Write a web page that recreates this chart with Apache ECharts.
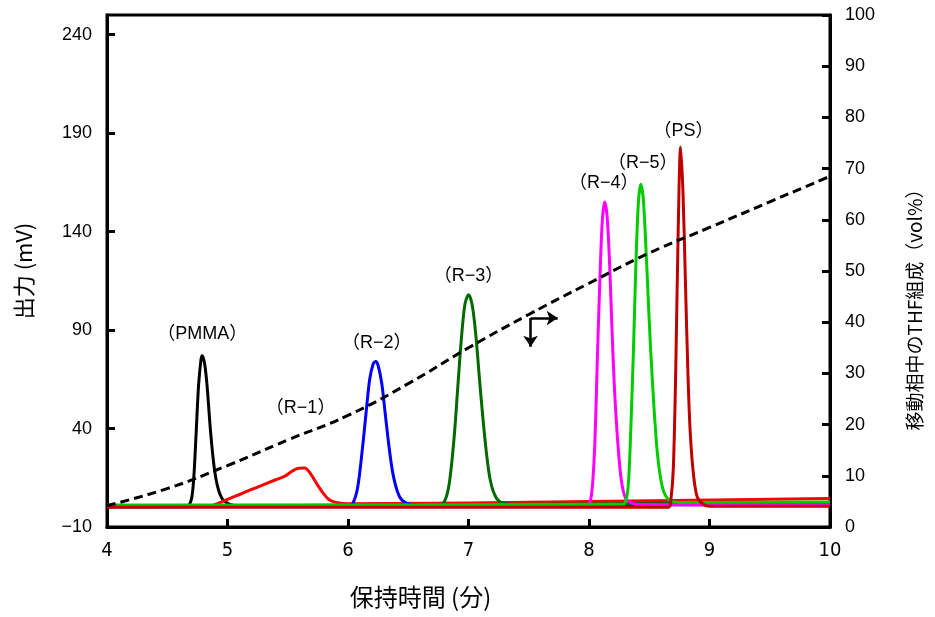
<!DOCTYPE html>
<html>
<head>
<meta charset="utf-8">
<script src="https://cdn.jsdelivr.net/npm/echarts@6/dist/echarts.min.js"></script>
<style>
  html, body { margin: 0; padding: 0; background: #fff; }
  #container { width: 935px; height: 617px; }
</style>
</head>
<body>
<div id="container"></div>
<script>
// retention time (min) vs detector output (mV); each trace as [time, mV]
var pmma = [[4,0.3],[4.66,0.3],[4.70,4],[4.72,15],[4.74,38],[4.76,62],[4.78,75],[4.79,77],[4.81,73],[4.83,62],[4.86,38],[4.89,20],[4.92,10],[4.96,4],[5.02,1.5],[5.1,0.8],[7,1.5],[10,2]];
var r1 = [[4,0.3],[4.85,0.5],[4.92,2],[5.0,4],[5.1,6.5],[5.19,8.8],[5.3,11.5],[5.4,14],[5.48,16],[5.54,18.5],[5.59,19.8],[5.64,20],[5.69,17],[5.74,12],[5.79,7.5],[5.84,4],[5.9,2.5],[6.0,1.8],[8,3],[10,4.5]];
var r2 = [[4,0.5],[6.00,0.5],[6.04,2],[6.08,10],[6.12,30],[6.15,48],[6.18,65],[6.21,73],[6.23,74],[6.25,72],[6.28,63],[6.31,47],[6.34,31],[6.37,18],[6.41,8],[6.45,3.5],[6.52,1.5],[6.7,1],[10,1.5]];
var r3 = [[4,0.5],[6.74,0.5],[6.80,3],[6.84,12],[6.88,35],[6.91,60],[6.94,85],[6.97,103],[7.00,108],[7.03,103],[7.06,88],[7.09,66],[7.12,45],[7.15,27],[7.18,14],[7.22,6],[7.27,2.5],[7.4,1.5],[10,2.5]];
var r4 = [[4,1],[7.98,1],[8.01,3],[8.03,12],[8.05,35],[8.07,77],[8.09,115],[8.11,145],[8.13,155],[8.15,148],[8.17,125],[8.19,92],[8.21,62],[8.24,32],[8.27,13],[8.31,4],[8.4,1.5],[10,1]];
var r5 = [[4,1],[8.28,1.5],[8.31,4],[8.33,15],[8.35,45],[8.37,82],[8.39,125],[8.41,155],[8.43,164],[8.45,157],[8.47,135],[8.49,108],[8.51,82],[8.54,50],[8.57,26],[8.61,10],[8.66,4],[8.75,2.5],[10,2.7]];
var ps = [[4,0],[8.66,0],[8.68,4],[8.70,20],[8.72,70],[8.74,140],[8.76,183],[8.78,160],[8.80,115],[8.82,70],[8.84,38],[8.87,15],[8.90,5],[8.95,1.5],[9.0,0.5],[10,0.5]];

var peakNames = ['（PMMA）','（R−1）','（R−2）','（R−3）','（R−4）','（R−5）','（PS）'];

// THF content of the mobile phase (vol%), right axis
var thfTime = [4,4.5,5,5.5,6,6.5,7,7.5,8,8.5,9,9.5,10];
var thfPct  = [4.2,7.5,12,17,21.8,28,35,41.5,47.6,53.5,58.5,63.5,68.5];

var xTicks = [4,5,6,7,8,9,10];
var leftTicks = [-10,40,90,140,190,240];
var rightTicks = [0,10,20,30,40,50,60,70,80,90,100];

// arrow pointing to the right axis (corner, down tip, right tip)
var arrowCorner = [7.515,40.8], arrowDown = [7.515,35.2], arrowRight = [7.74,40.8];

var traces = [pmma, r1, r2, r3, r4, r5, ps];
var colors = ['#000000','#ff0000','#0000ff','#006a00','#ff00ff','#00cc00','#c00000'];
var labelGap = [13, 51, 10, 10, 10, 12, 7];
var labelShift = [0, -4, 1, 0, -1, 2, 3];

var latin = 'Liberation Sans, Arial, "Noto Sans CJK JP", sans-serif';
var cjk = '"Noto Sans CJK JP", sans-serif';

var series = traces.map(function (d, i) {
  return {
    name: peakNames[i],
    type: 'line',
    data: d,
    symbol: 'none',
    smooth: 0.3,
    lineStyle: { color: colors[i], width: 3, join: 'round' },
    markPoint: {
      symbol: 'circle',
      symbolSize: 0,
      silent: true,
      data: [{ type: 'max' }],
      label: {
        show: true,
        position: 'top',
        distance: labelGap[i],
        offset: [labelShift[i], 0],
        formatter: peakNames[i],
        color: '#000',
        fontSize: 18,
        fontFamily: latin
      }
    }
  };
});

series.push({
  name: 'THF',
  type: 'line',
  yAxisIndex: 1,
  data: thfTime.map(function (t, i) { return [t, thfPct[i]]; }),
  symbol: 'none',
  smooth: true,
  z: 5,
  lineStyle: { color: '#000', width: 3, type: [9, 5] },
  markLine: {
    silent: true,
    symbol: ['none', 'arrow'],
    symbolSize: 11,
    label: { show: false },
    lineStyle: { color: '#000', width: 2.5, type: 'solid' },
    data: [
      [{ coord: arrowCorner }, { coord: arrowDown }],
      [{ coord: arrowCorner }, { coord: arrowRight }]
    ]
  }
});

var option = {
  animation: false,
  backgroundColor: '#fff',
  grid: { left: 107, right: 105, top: 15, bottom: 90, show: true, borderColor: '#000', borderWidth: 3, backgroundColor: 'transparent' },
  xAxis: {
    type: 'value',
    min: xTicks[0],
    max: xTicks[xTicks.length - 1],
    interval: 1,
    axisLine: { onZero: false, lineStyle: { color: '#000', width: 3 } },
    axisTick: { inside: true, length: 8, lineStyle: { color: '#000', width: 3 } },
    axisLabel: { color: '#000', fontSize: 20, margin: 14, fontFamily: '"Liberation Sans Narrow", "DejaVu Sans Condensed", sans-serif' },
    splitLine: { show: false },
    name: '保持時間 (分)',
    nameLocation: 'middle',
    nameGap: 58,
    nameTextStyle: { color: '#000', fontSize: 24, fontFamily: cjk, padding: [0, 96, 0, 0] }
  },
  yAxis: [{
    type: 'value',
    min: leftTicks[0],
    max: 250,
    interval: 50,
    axisLine: { show: true, onZero: false, lineStyle: { color: '#000', width: 3 } },
    axisTick: { show: true, inside: true, length: 8, lineStyle: { color: '#000', width: 3 } },
    axisLabel: {
      color: '#000', fontSize: 18, margin: 15, fontFamily: latin, showMaxLabel: false,
      formatter: function (v) { return v < 0 ? '−' + Math.abs(v) : String(v); }
    },
    splitLine: { show: false },
    name: '出力 (mV)',
    nameLocation: 'middle',
    nameRotate: 90,
    nameGap: 72,
    nameTextStyle: { color: '#000', fontSize: 22, fontFamily: cjk, padding: [0, 0, 0, 0] }
  }, {
    type: 'value',
    position: 'right',
    min: rightTicks[0],
    max: rightTicks[rightTicks.length - 1],
    interval: 10,
    axisLine: { show: true, onZero: false, lineStyle: { color: '#000', width: 3 } },
    axisTick: { show: true, inside: true, length: 8, lineStyle: { color: '#000', width: 3 } },
    axisLabel: { color: '#000', fontSize: 18, margin: 15, fontFamily: latin },
    splitLine: { show: false },
    name: '移動相中のTHF組成（vol%）',
    nameLocation: 'middle',
    nameRotate: 90,
    nameGap: 75,
    nameTextStyle: { color: '#000', fontSize: 19, fontFamily: cjk, padding: [0, 68, 0, 0] }
  }],
  series: series
};

var chart = echarts.init(document.getElementById('container'));
chart.setOption(option);
</script>
</body>
</html>
